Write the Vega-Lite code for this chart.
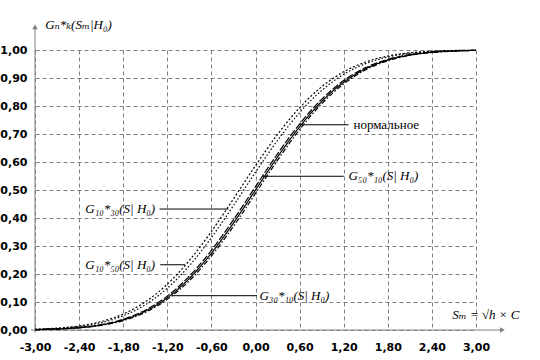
{
  "$schema": "https://vega.github.io/schema/vega-lite/v6.json",
  "width": 441,
  "height": 280,
  "autosize": {"type": "none"},
  "padding": {"left": 35, "top": 50, "right": 64, "bottom": 30},
  "background": "white",
  "config": {"view": {"stroke": null}},
  "datasets": {
    "curves": [
      {"x": -3.0, "y": 0.0027, "c": "g1050"}, {"x": -2.7, "y": 0.0066, "c": "g1050"}, {"x": -2.4, "y": 0.0146, "c": "g1050"}, {"x": -2.1, "y": 0.0301, "c": "g1050"}, {"x": -1.8, "y": 0.0571, "c": "g1050"}, {"x": -1.5, "y": 0.1003, "c": "g1050"}, {"x": -1.2, "y": 0.1635, "c": "g1050"}, {"x": -0.9, "y": 0.2483, "c": "g1050"}, {"x": -0.6, "y": 0.352, "c": "g1050"}, {"x": -0.3, "y": 0.4681, "c": "g1050"}, {"x": 0.0, "y": 0.5871, "c": "g1050"}, {"x": 0.3, "y": 0.6985, "c": "g1050"}, {"x": 0.6, "y": 0.7939, "c": "g1050"}, {"x": 0.9, "y": 0.8686, "c": "g1050"}, {"x": 1.2, "y": 0.9222, "c": "g1050"}, {"x": 1.5, "y": 0.9573, "c": "g1050"}, {"x": 1.8, "y": 0.9783, "c": "g1050"}, {"x": 2.1, "y": 0.9898, "c": "g1050"}, {"x": 2.4, "y": 0.9956, "c": "g1050"}, {"x": 2.7, "y": 0.9983, "c": "g1050"}, {"x": 3.0, "y": 0.9994, "c": "g1050"},
      {"x": -3.0, "y": 0.0023, "c": "g1030"}, {"x": -2.7, "y": 0.0055, "c": "g1030"}, {"x": -2.4, "y": 0.0126, "c": "g1030"}, {"x": -2.1, "y": 0.0262, "c": "g1030"}, {"x": -1.8, "y": 0.0505, "c": "g1030"}, {"x": -1.5, "y": 0.0901, "c": "g1030"}, {"x": -1.2, "y": 0.1492, "c": "g1030"}, {"x": -0.9, "y": 0.2297, "c": "g1030"}, {"x": -0.6, "y": 0.33, "c": "g1030"}, {"x": -0.3, "y": 0.4443, "c": "g1030"}, {"x": 0.0, "y": 0.5636, "c": "g1030"}, {"x": 0.3, "y": 0.6772, "c": "g1030"}, {"x": 0.6, "y": 0.7764, "c": "g1030"}, {"x": 0.9, "y": 0.8554, "c": "g1030"}, {"x": 1.2, "y": 0.9131, "c": "g1030"}, {"x": 1.5, "y": 0.9515, "c": "g1030"}, {"x": 1.8, "y": 0.975, "c": "g1030"}, {"x": 2.1, "y": 0.9881, "c": "g1030"}, {"x": 2.4, "y": 0.9948, "c": "g1030"}, {"x": 2.7, "y": 0.9979, "c": "g1030"}, {"x": 3.0, "y": 0.9992, "c": "g1030"},
      {"x": -3.0, "y": 0.0015, "c": "g5010"}, {"x": -2.7, "y": 0.0038, "c": "g5010"}, {"x": -2.4, "y": 0.0089, "c": "g5010"}, {"x": -2.1, "y": 0.0192, "c": "g5010"}, {"x": -1.8, "y": 0.0384, "c": "g5010"}, {"x": -1.5, "y": 0.0708, "c": "g5010"}, {"x": -1.2, "y": 0.121, "c": "g5010"}, {"x": -0.9, "y": 0.1922, "c": "g5010"}, {"x": -0.6, "y": 0.2843, "c": "g5010"}, {"x": -0.3, "y": 0.3936, "c": "g5010"}, {"x": 0.0, "y": 0.512, "c": "g5010"}, {"x": 0.3, "y": 0.6293, "c": "g5010"}, {"x": 0.6, "y": 0.7357, "c": "g5010"}, {"x": 0.9, "y": 0.8238, "c": "g5010"}, {"x": 1.2, "y": 0.8907, "c": "g5010"}, {"x": 1.5, "y": 0.937, "c": "g5010"}, {"x": 1.8, "y": 0.9664, "c": "g5010"}, {"x": 2.1, "y": 0.9834, "c": "g5010"}, {"x": 2.4, "y": 0.9925, "c": "g5010"}, {"x": 2.7, "y": 0.9968, "c": "g5010"}, {"x": 3.0, "y": 0.9988, "c": "g5010"},
      {"x": -3.0, "y": 0.0013, "c": "norm"}, {"x": -2.7, "y": 0.0035, "c": "norm"}, {"x": -2.4, "y": 0.0082, "c": "norm"}, {"x": -2.1, "y": 0.0179, "c": "norm"}, {"x": -1.8, "y": 0.0359, "c": "norm"}, {"x": -1.5, "y": 0.0668, "c": "norm"}, {"x": -1.2, "y": 0.1151, "c": "norm"}, {"x": -0.9, "y": 0.1841, "c": "norm"}, {"x": -0.6, "y": 0.2743, "c": "norm"}, {"x": -0.3, "y": 0.3821, "c": "norm"}, {"x": 0.0, "y": 0.5, "c": "norm"}, {"x": 0.3, "y": 0.6179, "c": "norm"}, {"x": 0.6, "y": 0.7257, "c": "norm"}, {"x": 0.9, "y": 0.8159, "c": "norm"}, {"x": 1.2, "y": 0.8849, "c": "norm"}, {"x": 1.5, "y": 0.9332, "c": "norm"}, {"x": 1.8, "y": 0.9641, "c": "norm"}, {"x": 2.1, "y": 0.9821, "c": "norm"}, {"x": 2.4, "y": 0.9918, "c": "norm"}, {"x": 2.7, "y": 0.9965, "c": "norm"}, {"x": 3.0, "y": 0.9987, "c": "norm"},
      {"x": -3.0, "y": 0.0012, "c": "g3010"}, {"x": -2.7, "y": 0.0032, "c": "g3010"}, {"x": -2.4, "y": 0.0076, "c": "g3010"}, {"x": -2.1, "y": 0.0166, "c": "g3010"}, {"x": -1.8, "y": 0.0336, "c": "g3010"}, {"x": -1.5, "y": 0.063, "c": "g3010"}, {"x": -1.2, "y": 0.1094, "c": "g3010"}, {"x": -0.9, "y": 0.1762, "c": "g3010"}, {"x": -0.6, "y": 0.2644, "c": "g3010"}, {"x": -0.3, "y": 0.3707, "c": "g3010"}, {"x": 0.0, "y": 0.488, "c": "g3010"}, {"x": 0.3, "y": 0.6064, "c": "g3010"}, {"x": 0.6, "y": 0.7157, "c": "g3010"}, {"x": 0.9, "y": 0.8078, "c": "g3010"}, {"x": 1.2, "y": 0.879, "c": "g3010"}, {"x": 1.5, "y": 0.9292, "c": "g3010"}, {"x": 1.8, "y": 0.9616, "c": "g3010"}, {"x": 2.1, "y": 0.9808, "c": "g3010"}, {"x": 2.4, "y": 0.9911, "c": "g3010"}, {"x": 2.7, "y": 0.9962, "c": "g3010"}, {"x": 3.0, "y": 0.9985, "c": "g3010"}
    ],
    "leaders": [
      {"x": 0.608, "x2": 1.266, "y": 0.733},
      {"x": 0.087, "x2": 1.2, "y": 0.549},
      {"x": -1.306, "x2": -0.367, "y": 0.432},
      {"x": -1.297, "x2": -0.957, "y": 0.233},
      {"x": -1.137, "x2": 0.019, "y": 0.1225}
    ],
    "glabels": [
      {"x": 1.265, "y": 0.549, "t": "G₅₀*₁₀(S| H₀)"},
      {"x": -2.316, "y": 0.432, "t": "G₁₀*₃₀(S| H₀)"},
      {"x": -2.316, "y": 0.233, "t": "G₁₀*₅₀(S| H₀)"},
      {"x": 0.054, "y": 0.1225, "t": "G₃₀*₁₀(S| H₀)"},
      {"x": -2.861, "y": 1.09, "t": "Gₙ*ₖ(Sₘ|H₀)"},
      {"x": 2.676, "y": 0.055, "t": "Sₘ = √h × C"}
    ],
    "nlabel": [{"x": 1.333, "y": 0.733, "t": "нормальное"}],
    "axislines": [
      {"x": -3.056, "x2": 3.36, "y": 0, "y2": 0},
      {"x": -3, "x2": -3, "y": -0.01, "y2": 1.08}
    ],
    "xarrow": [{"x": 3.36, "y": 0}],
    "yarrow": [{"x": -3, "y": 1.083}]
  },
  "encoding": {
    "x": {
      "field": "x", "type": "quantitative",
      "scale": {"domain": [-3, 3], "nice": false, "zero": false},
      "axis": {
        "values": [-3, -2.4, -1.8, -1.2, -0.6, 0, 0.6, 1.2, 1.8, 2.4, 3],
        "title": null, "grid": true, "gridDash": [4, 3], "gridColor": "#808080", "gridOpacity": 1,
        "domain": false, "ticks": false,
        "labelExpr": "replace(replace(format(datum.value,'.2f'),'.',','),'−','-')",
        "labelFont": "DejaVu Sans", "labelFontWeight": "bold", "labelFontSize": 11, "labelColor": "black",
        "labelPadding": 11, "labelFlush": false, "labelOverlap": false
      }
    },
    "y": {
      "field": "y", "type": "quantitative",
      "scale": {"domain": [0, 1], "nice": false, "zero": false},
      "axis": {
        "values": [0, 0.1, 0.2, 0.3, 0.4, 0.5, 0.6, 0.7, 0.8, 0.9, 1],
        "title": null, "grid": true, "gridDash": [4, 3], "gridColor": "#808080", "gridOpacity": 1,
        "domain": false, "ticks": false,
        "labelExpr": "replace(format(datum.value,'.2f'),'.',',')",
        "labelFont": "DejaVu Sans", "labelFontWeight": "bold", "labelFontSize": 11, "labelColor": "black",
        "labelPadding": 8, "labelFlush": false, "labelOverlap": false
      }
    }
  },
  "layer": [
    {
      "data": {"name": "axislines"},
      "mark": {"type": "rule", "color": "#808080", "strokeWidth": 1},
      "encoding": {"x2": {"field": "x2"}, "y2": {"field": "y2"}}
    },
    {
      "data": {"name": "xarrow"},
      "mark": {"type": "point", "shape": "triangle-right", "filled": true, "color": "#808080", "size": 30, "opacity": 1},
      "encoding": {}
    },
    {
      "data": {"name": "yarrow"},
      "mark": {"type": "point", "shape": "triangle-up", "filled": true, "color": "#808080", "size": 30, "opacity": 1},
      "encoding": {}
    },
    {
      "data": {"name": "curves"},
      "mark": {"type": "line", "interpolate": "monotone", "color": "black", "strokeWidth": 1.2},
      "encoding": {
        "detail": {"field": "c", "type": "nominal"},
        "strokeDash": {
          "field": "c", "type": "nominal",
          "scale": {"domain": ["g1050", "g1030", "g5010", "norm", "g3010"], "range": [[2, 2], [1.5, 2], [7, 2], [1, 0], [5, 2, 1.5, 2]]},
          "legend": null
        }
      }
    },
    {
      "data": {"name": "leaders"},
      "mark": {"type": "rule", "color": "black", "strokeWidth": 1},
      "encoding": {"x2": {"field": "x2"}}
    },
    {
      "data": {"name": "glabels"},
      "mark": {"type": "text", "align": "left", "baseline": "middle", "font": "Liberation Serif, DejaVu Serif, serif", "fontStyle": "italic", "fontSize": 13, "color": "black"},
      "encoding": {"text": {"field": "t"}}
    },
    {
      "data": {"name": "nlabel"},
      "mark": {"type": "text", "align": "left", "baseline": "middle", "font": "Liberation Serif, DejaVu Serif, serif", "fontSize": 13, "color": "black"},
      "encoding": {"text": {"field": "t"}}
    }
  ]
}
